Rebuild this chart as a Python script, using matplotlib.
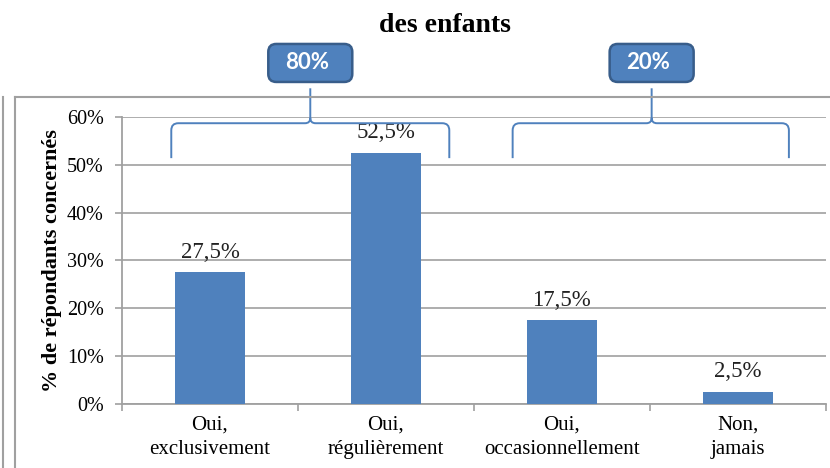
import matplotlib
matplotlib.use("Agg")
import matplotlib.pyplot as plt
from matplotlib.patches import FancyBboxPatch, PathPatch
from matplotlib.path import Path
from matplotlib.lines import Line2D
from matplotlib.transforms import ScaledTranslation

# DATA

categories = ["Oui,\nexclusivement", "Oui,\nrégulièrement",
              "Oui,\noccasionnellement", "Non,\njamais"]
values = [27.5, 52.5, 17.5, 2.5]
value_labels = ["27,5%", "52,5%", "17,5%", "2,5%"]
y_ticks = [0, 10, 20, 30, 40, 50, 60]
y_tick_labels = ["0%", "10%", "20%", "30%", "40%", "50%", "60%"]

# GROUPS (braces above the bars)

group_labels = ["80%", "20%"]
group_left = [-0.22, 1.72]
group_right = [1.36, 3.29]
group_mid = [0.57, 2.51]

BLUE = "#4f81bd"
GRID = "#a0a0a0"
SERIF = "Liberation Serif"

# FIGURE

fig = plt.figure(figsize=(8.3, 4.68), dpi=100)
ax = fig.add_axes([0.147, 0.1368, 0.848, 0.6132])

x = list(range(len(categories)))
bars = ax.bar(x, values, width=0.4, color=BLUE, zorder=3)

ax.bar_label(bars, labels=value_labels, padding=7,
             fontsize=16.5, family=SERIF, color="#222222")

ax.set_xlim(-0.5, 3.5)
ax.set_ylim(0, 60)

ax.set_yticks(y_ticks)
ax.set_yticklabels(y_tick_labels, family=SERIF, fontsize=14.5)
ax.set_xticks(x)
ax.set_xticklabels(categories, family=SERIF, fontsize=15, linespacing=1.4)
ax.set_xticks([-0.5, 0.5, 1.5, 2.5, 3.5], minor=True)

ax.tick_params(axis="x", which="major", length=0, pad=8)
ax.tick_params(axis="x", which="minor", length=5, color=GRID, width=1.2)
ax.tick_params(axis="y", length=5, color=GRID, width=1.2, pad=8)

ax.grid(axis="y", color=GRID, linewidth=1.2, zorder=0)
ax.set_axisbelow(True)

for side in ["top", "right"]:
    ax.spines[side].set_visible(False)
for side in ["left", "bottom"]:
    ax.spines[side].set_color(GRID)
    ax.spines[side].set_linewidth(1.3)

ax.set_ylabel("% de répondants concernés", family=SERIF,
              fontsize=16, fontweight="bold", labelpad=4)

fig.text(0.536, 0.945, "des enfants", ha="center", va="center",
         family=SERIF, fontsize=20, fontweight="bold")

# BRACES


def brace_path(x0, x1, xm, y_end=51.4, y_bar=58.7, y_tip=59.8, y_top=66.0,
               rx=0.04, ry=1.5, cx=0.03):
    verts = [
        (x0, y_end), (x0, y_bar - ry),
        (x0, y_bar), (x0 + rx, y_bar),
        (xm - cx, y_bar),
        (xm, y_bar), (xm, y_tip),
        (xm, y_top),
        (xm, y_tip),
        (xm, y_bar), (xm + cx, y_bar),
        (x1 - rx, y_bar),
        (x1, y_bar), (x1, y_bar - ry),
        (x1, y_end),
    ]
    codes = [
        Path.MOVETO, Path.LINETO,
        Path.CURVE3, Path.CURVE3,
        Path.LINETO,
        Path.CURVE3, Path.CURVE3,
        Path.LINETO,
        Path.MOVETO,
        Path.CURVE3, Path.CURVE3,
        Path.LINETO,
        Path.CURVE3, Path.CURVE3,
        Path.LINETO,
    ]
    return Path(verts, codes)


for label, x0, x1, xm in zip(group_labels, group_left, group_right, group_mid):
    patch = PathPatch(brace_path(x0, x1, xm), facecolor="none",
                      edgecolor=BLUE, linewidth=1.4, clip_on=False, zorder=4)
    ax.add_patch(patch)

    # label box, sized in inches around the group centre
    box_trans = fig.dpi_scale_trans + ScaledTranslation(xm, 71.3, ax.transData)
    box = FancyBboxPatch((-0.42, -0.19), 0.84, 0.38,
                         boxstyle="round,pad=0,rounding_size=0.08",
                         facecolor=BLUE, edgecolor="#385d8a", linewidth=1.8,
                         transform=box_trans, clip_on=False, zorder=5)
    ax.add_artist(box)
    ax.text(xm - 0.02, 71.3, label, ha="center", va="center", color="white",
            family="Lato", fontsize=16, fontweight="bold",
            clip_on=False, zorder=6)

ax.set_xlim(-0.5, 3.5)
ax.set_ylim(0, 60)

# CHART BORDERS

top_y = 1 - 97 / 468
fig.add_artist(Line2D([15 / 830, 1], [top_y, top_y],
                      transform=fig.transFigure, color=GRID, linewidth=1.5))
fig.add_artist(Line2D([15 / 830, 15 / 830], [0, top_y],
                      transform=fig.transFigure, color=GRID, linewidth=1.5))
fig.add_artist(Line2D([3 / 830, 3 / 830], [0, top_y],
                      transform=fig.transFigure, color=GRID, linewidth=1.5))

fig.savefig("out.png", dpi=100)
